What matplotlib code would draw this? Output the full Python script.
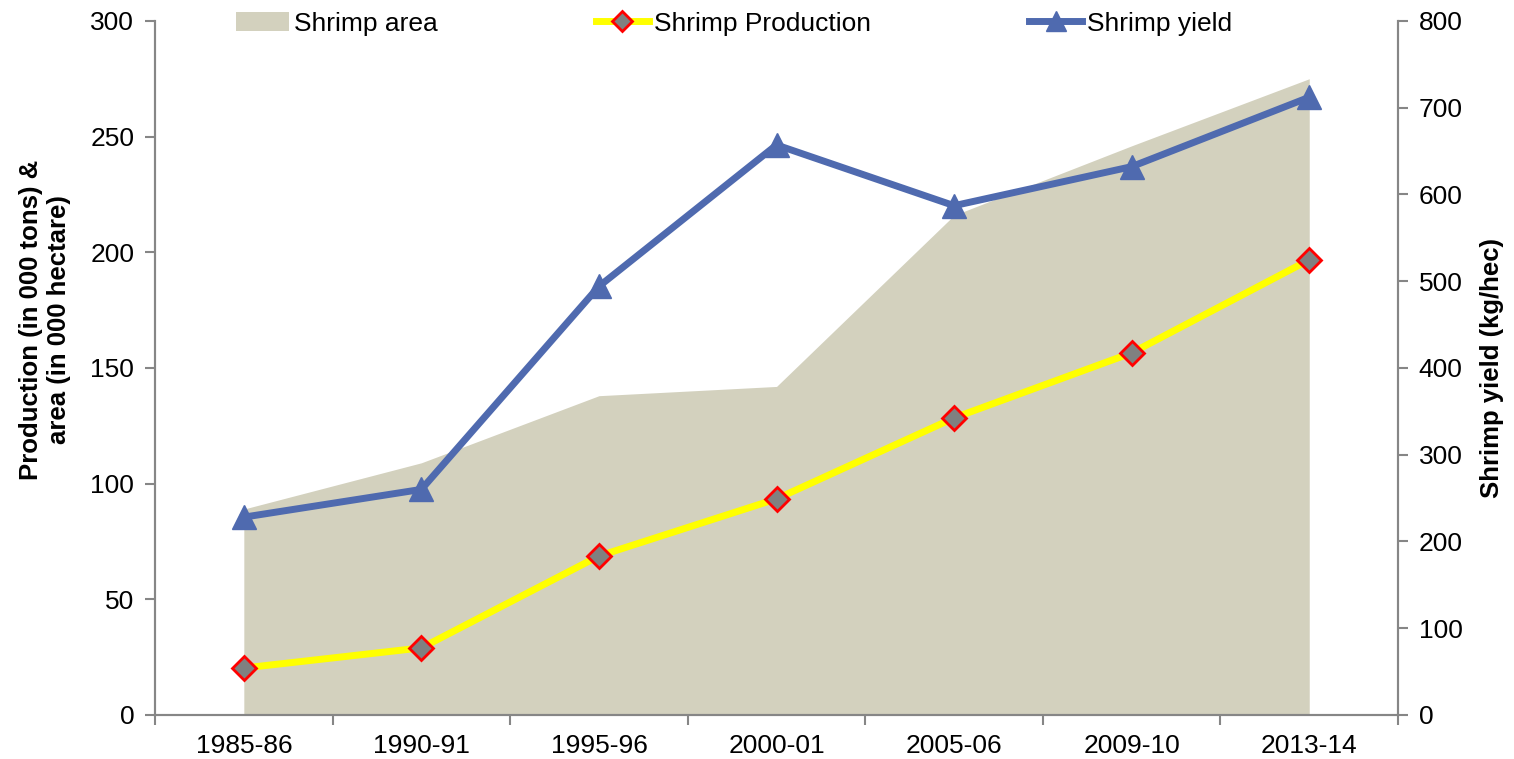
import matplotlib
matplotlib.use("Agg")
import matplotlib.pyplot as plt
import numpy as np

plt.rcParams['font.family'] = ['Liberation Sans', 'DejaVu Sans']

years = ['1985-86', '1990-91', '1995-96', '2000-01', '2005-06', '2009-10', '2013-14']
shrimp_area = [89, 109, 138, 142, 216, 246, 275]           # 000 hectare
shrimp_production = [20.3, 29, 68.7, 93.4, 128.4, 156.5, 196.7]  # 000 tons
shrimp_yield = [228, 260, 494, 657, 587, 632, 712]         # kg/hec

grey = '#868686'
fs = 19
x = np.arange(len(years))

fig = plt.figure(figsize=(15.14, 7.59), dpi=100)
ax = fig.add_axes([0.1024, 0.058, 0.821, 0.9145])
ax2 = ax.twinx()

ax.fill_between(x, 0, shrimp_area, color='#D3D1BE', lw=0, label='Shrimp area', zorder=1)
ax.plot(x, shrimp_production, color='#FFFF00', lw=5, marker='D', ms=12,
        mfc='#808080', mec='#FF0000', mew=2, label='Shrimp Production', zorder=3)
ax2.plot(x, shrimp_yield, color='#4F6AAF', lw=5, marker='^', ms=17,
         mfc='#4F6AAF', mec='#4F6AAF', label='Shrimp yield', zorder=3)

ax.set_xlim(-0.5, len(years) - 0.5)
ax.set_ylim(0, 300)
ax2.set_ylim(0, 800)
ax.set_yticks(range(0, 301, 50))
ax2.set_yticks(range(0, 801, 100))
ax.set_xticks(x)
ax.set_xticklabels(years)
ax.set_xticks(np.arange(-0.5, len(years)), minor=True)
ax.tick_params(axis='x', which='major', length=0, pad=14, labelsize=fs)
ax.tick_params(axis='x', which='minor', length=7, width=1.5, color=grey)
ax.tick_params(axis='y', length=7, width=1.5, color=grey, labelsize=fs, pad=8)
ax2.tick_params(axis='y', length=7, width=1.5, color=grey, labelsize=fs, pad=8)

for a in (ax, ax2):
    for s in a.spines.values():
        s.set_color(grey)
        s.set_linewidth(1.5)
    a.spines['top'].set_visible(False)

ax.set_ylabel('Production (in 000 tons) &\narea (in 000 hectare)', fontsize=18.5,
              fontweight='bold', linespacing=1.2)
ax.yaxis.set_label_coords(-0.068, 0.569)
ax2.set_ylabel('Shrimp yield (kg/hec)', fontsize=18.5, fontweight='bold', labelpad=12)

h1, l1 = ax.get_legend_handles_labels()
h2, l2 = ax2.get_legend_handles_labels()
leg = ax2.legend(h1 + h2, l1 + l2, loc='center left', bbox_to_anchor=(0.065, 0.996),
                 ncol=3, frameon=False, fontsize=fs, columnspacing=6.0,
                 handlelength=2.0, handletextpad=0.2, borderpad=0, borderaxespad=0,
                 markerscale=0.85)

fig.savefig('out.png', dpi=100)
